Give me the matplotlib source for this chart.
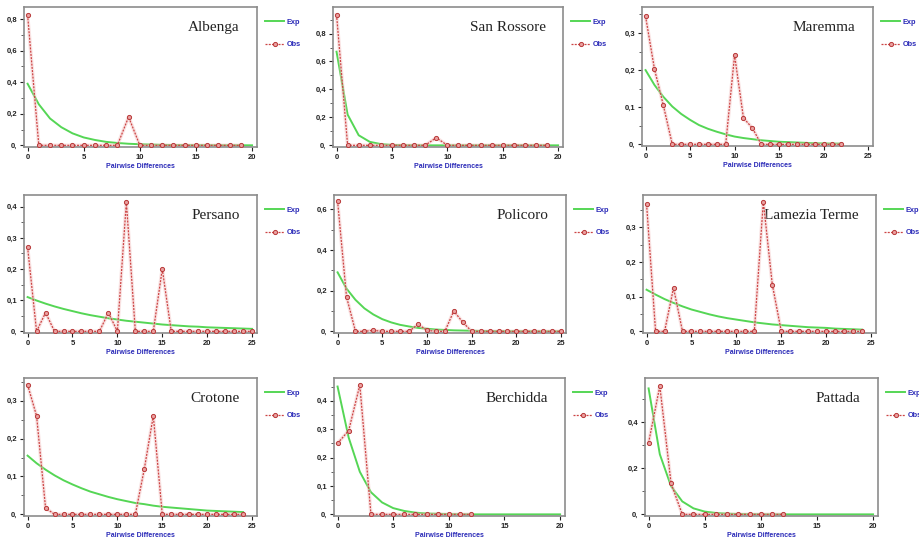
import matplotlib.pyplot as plt
from matplotlib.ticker import FuncFormatter, MultipleLocator, AutoMinorLocator

# === Mismatch distributions: observed vs expected, per site ===
sites = ["Albenga", "San Rossore", "Maremma",
         "Persano", "Policoro", "Lamezia Terme",
         "Crotone", "Berchidda", "Pattada"]

albenga_obs = [0.825, 0, 0, 0, 0, 0, 0, 0, 0, 0.18, 0, 0, 0, 0, 0, 0, 0, 0, 0, 0]
albenga_exp = [0.39, 0.26, 0.17, 0.115, 0.076, 0.05, 0.034, 0.022, 0.015, 0.01,
               0.007, 0.005, 0.003, 0.002, 0.0015, 0.001, 0.001, 0.0005, 0.0005, 0.0003, 0.0002]

sanrossore_obs = [0.935, 0, 0, 0, 0, 0, 0, 0, 0, 0.055, 0, 0, 0, 0, 0, 0, 0, 0, 0, 0]
sanrossore_exp = [0.67, 0.22, 0.072, 0.025, 0.009, 0.003, 0.001, 0.0005, 0, 0,
                  0, 0, 0, 0, 0, 0, 0, 0, 0, 0, 0]

maremma_obs = [0.345, 0.203, 0.105, 0, 0, 0, 0, 0, 0, 0, 0.24, 0.071, 0.044,
               0, 0, 0, 0, 0, 0, 0, 0, 0, 0]
maremma_exp = [0.2, 0.16, 0.128, 0.102, 0.082, 0.066, 0.052, 0.042, 0.034, 0.027,
               0.021, 0.017, 0.014, 0.011, 0.009, 0.007, 0.006, 0.005, 0.004, 0.003,
               0.0025, 0.002, 0.002]

persano_obs = [0.27, 0, 0.06, 0, 0, 0, 0, 0, 0, 0.06, 0, 0.415, 0, 0, 0, 0.2,
               0, 0, 0, 0, 0, 0, 0, 0, 0, 0]
persano_exp = [0.11, 0.099, 0.089, 0.08, 0.072, 0.065, 0.058, 0.052, 0.047, 0.042,
               0.038, 0.034, 0.031, 0.028, 0.025, 0.022, 0.02, 0.018, 0.016, 0.015,
               0.013, 0.012, 0.011, 0.01, 0.009, 0.008]

policoro_obs = [0.64, 0.17, 0, 0, 0.005, 0, 0, 0, 0, 0.035, 0.005, 0, 0, 0.1, 0.045,
                0, 0, 0, 0, 0, 0, 0, 0, 0, 0, 0]
policoro_exp = [0.29, 0.21, 0.155, 0.113, 0.083, 0.06, 0.044, 0.032, 0.024, 0.017,
                0.013, 0.009, 0.007, 0.005, 0.004, 0.003, 0.002, 0.0015, 0.001, 0.001,
                0.0005, 0.0005, 0.0003, 0.0002, 0.0002, 0.0001]

lamezia_obs = [0.366, 0, 0, 0.125, 0, 0, 0, 0, 0, 0, 0, 0, 0, 0.374, 0.135,
               0, 0, 0, 0, 0, 0, 0, 0, 0, 0]
lamezia_exp = [0.12, 0.106, 0.093, 0.082, 0.072, 0.063, 0.056, 0.049, 0.043, 0.038,
               0.034, 0.03, 0.026, 0.023, 0.02, 0.018, 0.016, 0.014, 0.012, 0.011,
               0.01, 0.008, 0.007, 0.006, 0.005]

crotone_obs = [0.342, 0.26, 0.017, 0, 0, 0, 0, 0, 0, 0, 0, 0, 0, 0.12, 0.26,
               0, 0, 0, 0, 0, 0, 0, 0, 0, 0]
crotone_exp = [0.155, 0.135, 0.118, 0.103, 0.09, 0.079, 0.069, 0.06, 0.053, 0.046,
               0.04, 0.035, 0.03, 0.027, 0.023, 0.02, 0.018, 0.016, 0.014, 0.012,
               0.01, 0.009, 0.008, 0.007, 0.006]

berchidda_obs = [0.25, 0.295, 0.455, 0, 0, 0, 0, 0, 0, 0, 0, 0, 0]
berchidda_exp = [0.45, 0.27, 0.15, 0.078, 0.042, 0.022, 0.012, 0.006, 0.003, 0.002,
                 0.001, 0.0005, 0, 0, 0, 0, 0, 0, 0, 0, 0]

pattada_obs = [0.31, 0.555, 0.135, 0, 0, 0, 0, 0, 0, 0, 0, 0, 0]
pattada_exp = [0.545, 0.26, 0.122, 0.056, 0.026, 0.012, 0.006, 0.003, 0.0015, 0.001,
               0.0005, 0, 0, 0, 0, 0, 0, 0, 0, 0, 0]

obs_all = [albenga_obs, sanrossore_obs, maremma_obs, persano_obs, policoro_obs,
           lamezia_obs, crotone_obs, berchidda_obs, pattada_obs]
exp_all = [albenga_exp, sanrossore_exp, maremma_exp, persano_exp, policoro_exp,
           lamezia_exp, crotone_exp, berchidda_exp, pattada_exp]

x_max = [20, 20, 25, 25, 25, 25, 25, 20, 20]
y_top = [0.876, 0.99, 0.37, 0.4375, 0.67, 0.393, 0.36, 0.48, 0.59]
y_step = [0.2, 0.2, 0.1, 0.1, 0.2, 0.1, 0.1, 0.1, 0.2]

# panel boxes in pixels: left, top, right, bottom
boxes = [(24, 7, 257, 147), (333, 7, 563, 147), (642, 7, 873, 146),
         (24, 195, 257, 333), (334, 195, 566, 333), (643, 195, 876, 333),
         (24, 378, 257, 516), (334, 378, 565, 516), (645, 378, 878, 516)]

W, H = 919, 540
fig = plt.figure(figsize=(W / 100, H / 100), dpi=100)
fig.patch.set_facecolor("white")

green = "#55d655"
red = "#cc4444"
blue = "#2a2ab8"


def comma_fmt(v, pos):
    if abs(v) < 1e-9:
        return "0,"
    return f"{v:.1f}".replace(".", ",")


for i, name in enumerate(sites):
    l, t, r, b = boxes[i]
    ax = fig.add_axes([l / W, 1 - b / H, (r - l) / W, (b - t) / H])

    obs = obs_all[i]
    exp = exp_all[i]
    xo = list(range(len(obs)))
    xe = list(range(len(exp)))

    ax.plot(xe, exp, color=green, lw=1.4, label="Exp", zorder=2)
    ax.plot(xo, obs, color="#f2c0c0", lw=2.6, alpha=0.45, zorder=2.5)
    ax.plot(xo, obs, color=red, lw=0.9, ls=(0, (1.6, 1.0)), marker="o", ms=3.0,
            mfc="#eaa0a0", mec="#b83838", mew=0.7, label="Obs", zorder=3)

    ax.set_xlim(-0.016 * x_max[i], x_max[i] * 1.022)
    ax.set_ylim(-0.012 * y_top[i], y_top[i])
    ax.xaxis.set_major_locator(MultipleLocator(5))
    ax.yaxis.set_major_locator(MultipleLocator(y_step[i]))
    ax.yaxis.set_minor_locator(AutoMinorLocator(2))
    ax.yaxis.set_major_formatter(FuncFormatter(comma_fmt))

    ax.tick_params(axis="both", which="major", length=3, width=0.8, pad=2,
                   labelsize=5.5, colors="#222222")
    ax.tick_params(axis="y", which="minor", length=2, width=0.6, colors="#444444")
    for lab in ax.get_xticklabels() + ax.get_yticklabels():
        lab.set_fontweight("bold")
        lab.set_family("Liberation Sans")

    for sp in ax.spines.values():
        sp.set_color("#8c8c8c")
        sp.set_linewidth(1.2)

    ax.set_xlabel("Pairwise Differences", fontsize=5, fontweight="bold",
                  color=blue, family="Liberation Sans", labelpad=1.5)

    ax.text(0.925, 0.85, name, transform=ax.transAxes, ha="right", va="center",
            fontsize=11, family="Liberation Serif", color="#222222", zorder=1)

    leg = ax.legend(loc="upper left", bbox_to_anchor=(1.035, 0.915), frameon=False,
                    borderaxespad=0, borderpad=0, handlelength=2.6,
                    handletextpad=0.35, labelspacing=2.05,
                    prop={"family": "Liberation Sans", "weight": "bold", "size": 5.3})
    for txt in leg.get_texts():
        txt.set_color(blue)

fig.savefig("out.png", dpi=100, facecolor="white")
